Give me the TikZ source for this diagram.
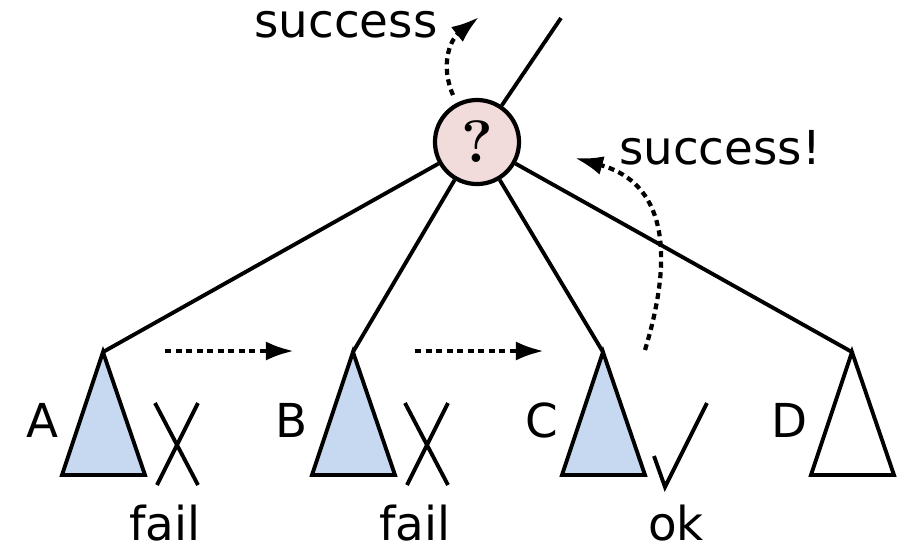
\documentclass[tikz,border=0pt]{standalone}
\usepackage{fontspec}
\newfontfamily\labelfont{DejaVu Sans}
\usepackage{xcolor}
\definecolor{treeblue}{RGB}{198,217,241}
\definecolor{rootpink}{RGB}{242,220,219}
\usetikzlibrary{arrows.meta}
\tikzset{
  tree edge/.style={line width=1.1pt},
  subtree/.style={draw, line width=1.1pt, line join=miter},
  mark line/.style={line width=1.1pt},
  try arrow/.style={-{Latex[length=2.8mm, width=1.9mm]}, line width=1.2pt, dash pattern=on 0.06cm off 0.045cm},
  tree label/.style={font=\labelfont\fontsize{13.3}{16}\selectfont, inner sep=0pt, anchor=base},
}

\begin{document}
\begin{tikzpicture}[x=0.01cm, y=-0.01cm]
  \useasboundingbox (0,0) rectangle (911,547);
  % root choice point
  \node[draw, circle, fill=rootpink, line width=1.2pt, minimum size=0.84cm, inner sep=0pt, font=\rmfamily\bfseries\fontsize{17}{20}\selectfont] (root) at (477,142) {?};
  \coordinate (up) at (561,18);
  \coordinate (a) at (103,352);
  \coordinate (b) at (353,352);
  \coordinate (c) at (603,352);
  \coordinate (d) at (852,352);
  \draw[tree edge] (root) -- (up);
  \draw[tree edge] (root) -- (a);
  \draw[tree edge] (root) -- (b);
  \draw[tree edge] (root) -- (c);
  \draw[tree edge] (root) -- (d);
  % subtrees
  \draw[subtree, fill=treeblue] (a) -- ++(-41,123) -- ++(83,0) -- cycle;
  \draw[subtree, fill=treeblue] (b) -- ++(-41,123) -- ++(83,0) -- cycle;
  \draw[subtree, fill=treeblue] (c) -- ++(-41,123) -- ++(83,0) -- cycle;
  \draw[subtree, fill=white] (d) -- ++(-41,123) -- ++(83,0) -- cycle;
  \node[tree label] (la) at (42,437) {A};
  \node[tree label] (lb) at (292,437) {B};
  \node[tree label] (lc) at (542,437) {C};
  \node[tree label] (ld) at (790,437) {D};
  % outcomes
  \draw[mark line] (155,403) -- (198,485) (198,403) -- (157,485);
  \draw[mark line] (405,403) -- (448,485) (448,403) -- (407,485);
  \draw[mark line] (654,456) -- (665,487) -- (707,403);
  \node[tree label] (failA) at (165,540) {fail};
  \node[tree label] (failB) at (415,540) {fail};
  \node[tree label] (ok) at (676,540) {ok};
  % search order
  \coordinate (ab0) at (165,351);
  \coordinate (ab1) at (294,351);
  \coordinate (bc0) at (415,351);
  \coordinate (bc1) at (544,351);
  \draw[try arrow] (ab0) -- (ab1);
  \draw[try arrow] (bc0) -- (bc1);
  \coordinate (back0) at (645,350);
  \coordinate (back1) at (575,158);
  \draw[try arrow] (back0) .. controls (680,235) and (655,180) .. (back1);
  \node[tree label] (succ) at (720,164) {success!};
  \coordinate (out0) at (453,95);
  \coordinate (out1) at (479,17);
  \draw[try arrow] (out0) .. controls (440,65) and (450,40) .. (out1);
  \node[tree label] (succup) at (346,37) {success};
\end{tikzpicture}
\end{document}
